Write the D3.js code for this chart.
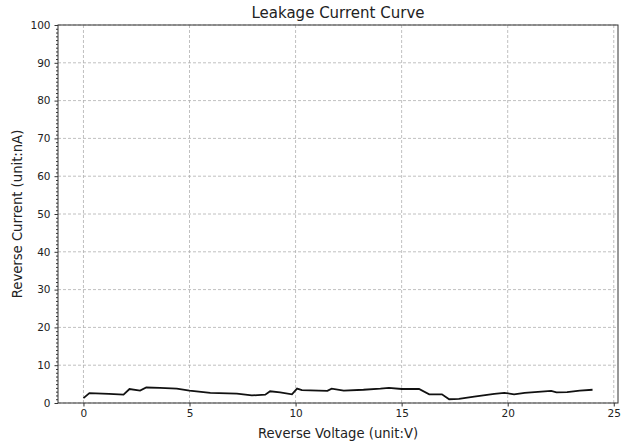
<!DOCTYPE html>
<html>
<head>
<meta charset="utf-8">
<script src="https://cdn.jsdelivr.net/npm/d3@7"></script>
<style>
  body { margin: 0; background: #fff; }
  svg text { font-family: "DejaVu Sans", sans-serif; fill: #222; }
  .grid line { stroke: #b0b0b0; stroke-dasharray: 3,2; stroke-width: 0.8; }
  .axis path, .axis line { stroke: #333; }
</style>
</head>
<body>
<div id="chart"></div>
<script>
// data
let voltage = [0, 0.28, 1.2, 1.89, 2.17, 2.67, 2.96, 3.6, 4.4, 5.0, 5.98, 7.23, 7.94, 8.57, 8.8, 9.27, 9.83,
  10.07, 10.3, 11.5, 11.7, 12.27, 13.2, 14.0, 14.4, 15.0, 15.82, 16.3, 16.9, 17.24, 17.7, 18.42, 19.37,
  19.84, 20.3, 20.8, 22.05, 22.3, 22.8, 23.4, 24.0];
let current = [1.3, 2.6, 2.4, 2.2, 3.7, 3.3, 4.1, 4.0, 3.8, 3.3, 2.7, 2.5, 2.0, 2.2, 3.1, 2.8, 2.3,
  3.8, 3.4, 3.2, 3.8, 3.3, 3.5, 3.8, 4.0, 3.7, 3.7, 2.3, 2.3, 1.0, 1.1, 1.7, 2.4,
  2.7, 2.3, 2.7, 3.2, 2.8, 2.9, 3.3, 3.5];
let xTicks = [0, 5, 10, 15, 20, 25];
let yTicks = [0, 10, 20, 30, 40, 50, 60, 70, 80, 90, 100];

let svgWidth = 629;
let svgHeight = 444;

let margin = { top: 25, right: 11, bottom: 41, left: 58 };
let width = svgWidth - margin.left - margin.right;
let height = svgHeight - margin.top - margin.bottom;

let svg = d3.select('#chart').append('svg')
  .attr('width', svgWidth)
  .attr('height', svgHeight);

let chartGroup = svg.append('g')
  .attr('transform', `translate(${margin.left}, ${margin.top})`);

let xScale = d3.scaleLinear().domain([-1.2, 25.2]).range([0, width]);
let yScale = d3.scaleLinear().domain([0, 100]).range([height, 0]);

// grid
chartGroup.append('g').classed('grid', true)
  .selectAll('line.gx')
  .data(xTicks)
  .enter()
  .append('line')
  .attr('x1', d => xScale(d)).attr('x2', d => xScale(d))
  .attr('y1', 0).attr('y2', height);

chartGroup.append('g').classed('grid', true)
  .selectAll('line.gy')
  .data(yTicks)
  .enter()
  .append('line')
  .attr('x1', 0).attr('x2', width)
  .attr('y1', d => yScale(d)).attr('y2', d => yScale(d));

// minor y ticks
let minorY = d3.range(0, 101).filter(d => d % 10 !== 0);
chartGroup.append('g').classed('axis', true)
  .call(d3.axisLeft(yScale).tickValues(minorY).tickSize(2).tickFormat(''))
  .select('.domain').remove();

let xAxis = chartGroup.append('g')
  .classed('axis', true)
  .attr('transform', `translate(0, ${height})`)
  .call(d3.axisBottom(xScale).tickValues(xTicks).tickSize(3.5).tickPadding(3));

let yAxis = chartGroup.append('g')
  .classed('axis', true)
  .call(d3.axisLeft(yScale).tickValues(yTicks).tickSize(3.5).tickPadding(4));

chartGroup.selectAll('.axis .domain').remove();
chartGroup.selectAll('.axis text').attr('font-size', '10.5px').style('font-family', '"DejaVu Sans", sans-serif');

// frame
chartGroup.append('rect')
  .attr('width', width).attr('height', height)
  .attr('fill', 'none').attr('stroke', '#333').attr('stroke-width', 1);

// line
let line = d3.line()
  .x((d, i) => xScale(voltage[i]))
  .y(d => yScale(d));

chartGroup.append('path')
  .datum(current)
  .attr('d', line)
  .attr('fill', 'none')
  .attr('stroke', '#111')
  .attr('stroke-width', 1.8);

// labels
svg.append('text')
  .attr('x', margin.left + width / 2).attr('y', 18)
  .attr('text-anchor', 'middle')
  .attr('font-size', '15px')
  .text('Leakage Current Curve');

svg.append('text')
  .attr('x', margin.left + width / 2).attr('y', 438)
  .attr('text-anchor', 'middle')
  .attr('font-size', '13.2px')
  .text('Reverse Voltage (unit:V)');

svg.append('text')
  .attr('transform', `translate(22, ${margin.top + height / 2}) rotate(-90)`)
  .attr('text-anchor', 'middle')
  .attr('font-size', '13.2px')
  .text('Reverse Current (unit:nA)');
</script>
</body>
</html>
